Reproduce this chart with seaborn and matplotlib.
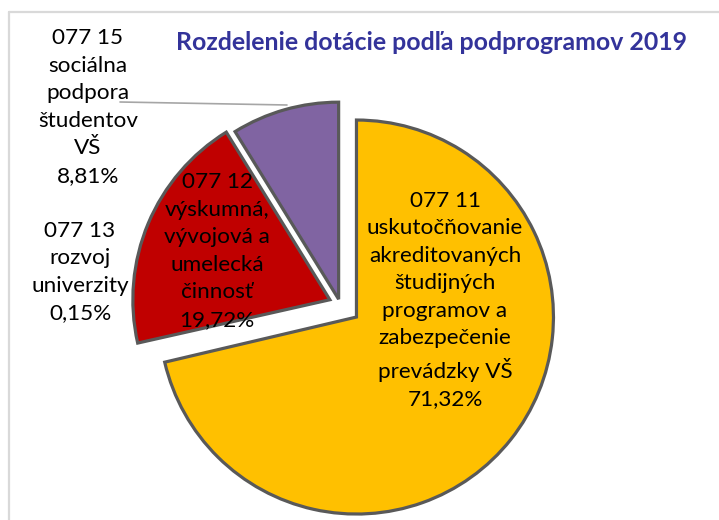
import matplotlib.pyplot as plt
import seaborn as sns

# subprograms, clockwise from 12 o'clock
codes = ["077 11", "077 13", "077 12", "077 15"]
names = ["uskutočňovanie\nakreditovaných\nštudijných\nprogramov a\nzabezpečenie\nprevádzky VŠ",
         "rozvoj\nuniverzity",
         "výskumná,\nvývojová a\numelecká\nčinnosť",
         "sociálna\npodpora\nštudentov\nVŠ"]
shares = [71.32, 0.15, 19.72, 8.81]
colors = ["#FFC000", "#595959", "#C00000", "#8064A2"]

title = "Rozdelenie dotácie podľa podprogramov 2019"

sns.set_theme(style="white")
plt.rcParams["font.family"] = ["Lato", "DejaVu Sans"]

W, H = 719, 520
fig = plt.figure(figsize=(W / 100, H / 100), dpi=100)
ax = fig.add_axes([0, 0, 1, 1])


def py(y):
    # pixel row -> data y (y axis points up)
    return H - y


radius = 197
wedges, _ = ax.pie(shares, colors=colors, startangle=90, counterclock=False,
                   radius=radius, center=(340, py(304)),
                   explode=[21, 11, 11, 5],
                   wedgeprops=dict(edgecolor="#595959", linewidth=2.3))
# the 0.15 % sliver is not visible in the original
wedges[1].set_alpha(0)

ax.set_xlim(0, W)
ax.set_ylim(0, H)
ax.set_aspect("auto")
ax.axis("off")

labels = [f"{c}\n{n}\n{s:.2f}%".replace(".", ",") for c, n, s in zip(codes, names, shares)]
label_pos = [(445, 300), (80, 272), (217, 251), (88, 107)]
for lab, (x, y) in zip(labels, label_pos):
    ax.text(x, py(y), lab, ha="center", va="center", fontsize=16.2,
            linespacing=1.47, color="black")

# leader line for 077 15
ax.annotate("", xy=(287, py(105)), xytext=(120, py(102)),
            arrowprops=dict(arrowstyle="-", color="#A6A6A6", lw=1.2,
                            shrinkA=0, shrinkB=0))

ax.text(432, py(43), title, ha="center", va="center", fontsize=17.9,
        fontweight="bold", color="#33339A")

# chart frame (only top and left edges are visible)
ax.plot([9, W + 5], [py(12), py(12)], color="#D9D9D9", lw=1.6, clip_on=False)
ax.plot([9, 9], [py(12), -5], color="#D9D9D9", lw=1.6, clip_on=False)

fig.savefig("out.png", dpi=100)
